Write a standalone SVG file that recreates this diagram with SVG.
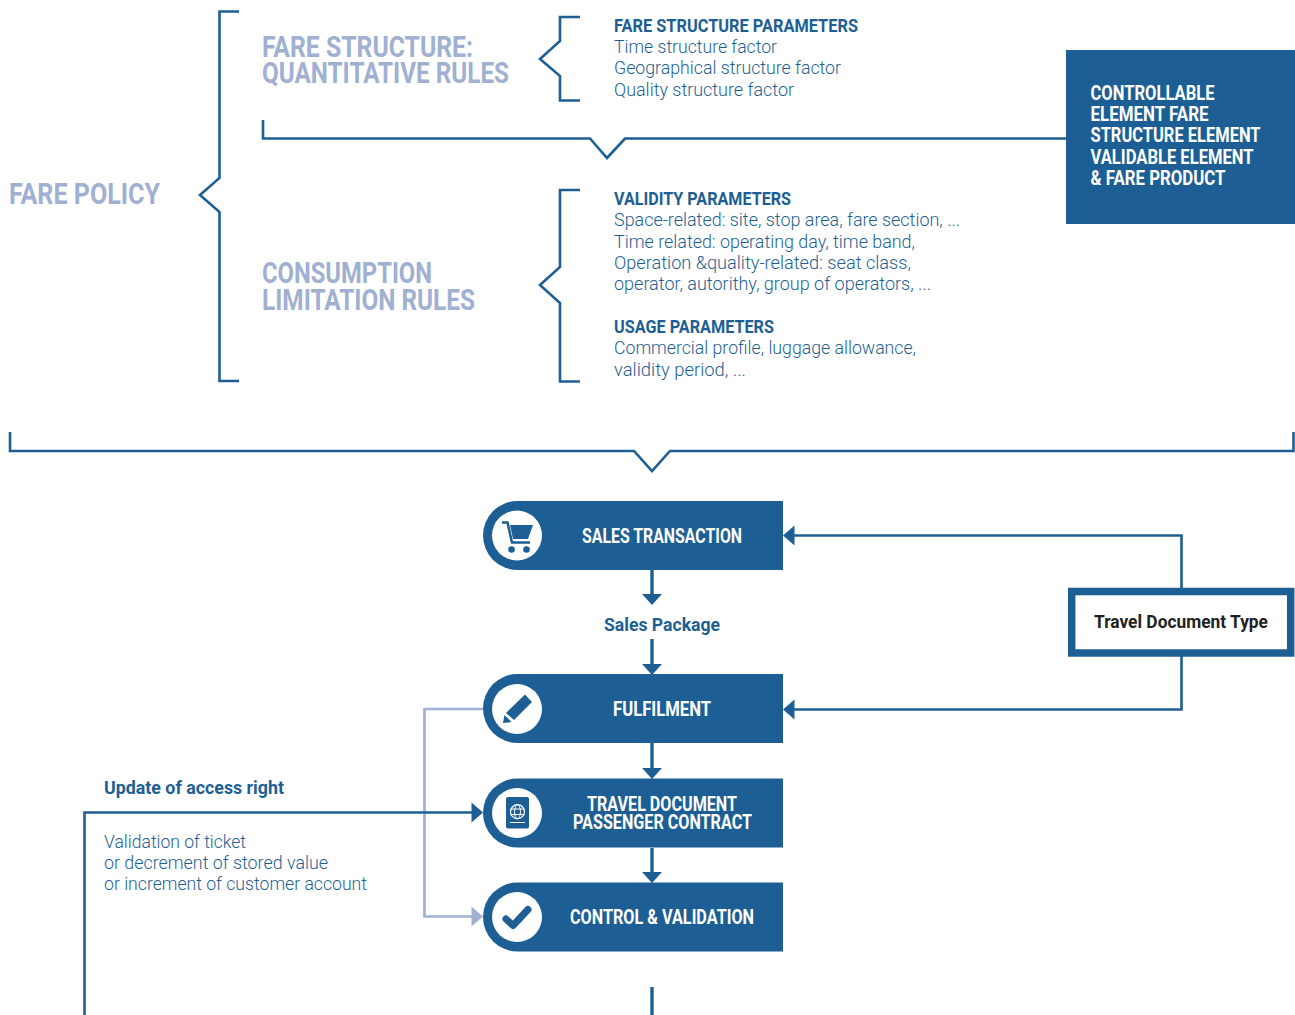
<svg xmlns="http://www.w3.org/2000/svg" width="1295" height="1015" viewBox="0 0 1295 1015">
<style>
text{font-family:"Roboto","Liberation Sans",sans-serif}
.ln{fill:none;stroke:#1d5f94;stroke-width:2.6}
.st{fill:none;stroke:#1d5f94;stroke-width:3.4}
.lt{fill:none;stroke:#9fb0d2;stroke-width:2.7}
.hd{fill:#9fb0d2;font-weight:700;font-size:29px}
.b{fill:#1d5f94;font-weight:700;font-size:18.500px}
.t{fill:#1d5f94;font-weight:300;font-size:18px}
.w{fill:#fff;font-weight:700;font-size:19.500px}
.box{fill:#1d5f94}
.c{fill:#fff}
.i{fill:#1d5f94}
</style>
<rect width="1295" height="1015" fill="#fff"/>
<g id="connectors">
<path class="ln" d="M239 11.500H219.500V178L200 195L219.500 212V381H239"/>
<path class="ln" d="M580 17H560V41L540 59L560 76V100.500H580"/>
<path class="ln" d="M580 190H560V267L540 285L560 303V381.500H580"/>
<path class="ln" d="M263 120V138.500H590L607 158L625 138.500H1066"/>
<path class="ln" d="M10 432V451H634L652 471L670 451H1293.500V432"/>
<path class="st" d="M652 570V595"/>
<polygon class="i" points="642,594 662,594 652,605"/>
<path class="st" d="M652 639V665"/>
<polygon class="i" points="642,664 662,664 652,675"/>
<path class="st" d="M652 743V769"/>
<polygon class="i" points="642,768 662,768 652,779"/>
<path class="st" d="M652 848V873"/>
<polygon class="i" points="642,872 662,872 652,883"/>
<path class="st" d="M652 987V1015"/>
<path class="ln" d="M1181.500 588V535.500H792"/>
<polygon class="i" points="794.500,525.500 794.500,545.500 783,535.500"/>
<path class="ln" d="M1181.500 656V709.500H792"/>
<polygon class="i" points="794.500,699.500 794.500,719.500 783,709.500"/>
<path class="lt" d="M484 709H424.500V916.500H474"/>
<polygon fill="#9fb0d2" points="471.500,906.500 471.500,926.500 483,916.500"/>
<path class="ln" d="M84.500 1015V812.500H474"/>
<polygon class="i" points="471.500,802.500 471.500,822.500 483,812.500"/>
</g>
<g id="fare-policy"><text class="hd" x="9" y="204" textLength="151" lengthAdjust="spacingAndGlyphs">FARE POLICY</text></g>
<g id="fare-structure">
<text class="hd" x="262" y="57" textLength="211" lengthAdjust="spacingAndGlyphs">FARE STRUCTURE:</text>
<text class="hd" x="262" y="83" textLength="247" lengthAdjust="spacingAndGlyphs">QUANTITATIVE RULES</text>
</g>
<g id="fare-structure-parameters">
<text class="b" x="614" y="32" textLength="244" lengthAdjust="spacingAndGlyphs">FARE STRUCTURE PARAMETERS</text>
<text class="t" x="614" y="53" textLength="163" lengthAdjust="spacingAndGlyphs">Time structure factor</text>
<text class="t" x="614" y="74" textLength="227" lengthAdjust="spacingAndGlyphs">Geographical structure factor</text>
<text class="t" x="614" y="96" textLength="180" lengthAdjust="spacingAndGlyphs">Quality structure factor</text>
</g>
<g id="consumption">
<text class="hd" x="262" y="283" textLength="170" lengthAdjust="spacingAndGlyphs">CONSUMPTION</text>
<text class="hd" x="262" y="310" textLength="213" lengthAdjust="spacingAndGlyphs">LIMITATION RULES</text>
</g>
<g id="validity-parameters">
<text class="b" x="614" y="205" textLength="177" lengthAdjust="spacingAndGlyphs">VALIDITY PARAMETERS</text>
<text class="t" x="614" y="226" textLength="346" lengthAdjust="spacingAndGlyphs">Space-related: site, stop area, fare section, ...</text>
<text class="t" x="614" y="248" textLength="301" lengthAdjust="spacingAndGlyphs">Time related: operating day, time band,</text>
<text class="t" x="614" y="269" textLength="297" lengthAdjust="spacingAndGlyphs">Operation &amp;quality-related: seat class,</text>
<text class="t" x="614" y="290" textLength="317" lengthAdjust="spacingAndGlyphs">operator, autorithy, group of operators, ...</text>
<text class="b" x="614" y="333" textLength="160" lengthAdjust="spacingAndGlyphs">USAGE PARAMETERS</text>
<text class="t" x="614" y="354" textLength="302" lengthAdjust="spacingAndGlyphs">Commercial profile, luggage allowance,</text>
<text class="t" x="614" y="376" textLength="132" lengthAdjust="spacingAndGlyphs">validity period, ...</text>
</g>
<g id="controllable">
<rect class="box" x="1066" y="50" width="229" height="174"/>
<text class="w" x="1090.500" y="99.500" textLength="124" lengthAdjust="spacingAndGlyphs">CONTROLLABLE</text>
<text class="w" x="1090.500" y="120.500" textLength="118" lengthAdjust="spacingAndGlyphs">ELEMENT FARE</text>
<text class="w" x="1090.500" y="141.500" textLength="170" lengthAdjust="spacingAndGlyphs">STRUCTURE ELEMENT</text>
<text class="w" x="1090.500" y="163.500" textLength="163" lengthAdjust="spacingAndGlyphs">VALIDABLE ELEMENT</text>
<text class="w" x="1090.500" y="184.500" textLength="135" lengthAdjust="spacingAndGlyphs">&amp; FARE PRODUCT</text>
</g>
<g id="sales-transaction">
<path class="box" d="M783 501V570H517.500A34.500 34.500 0 0 1 517.500 501Z"/>
<circle class="c" cx="517" cy="535.500" r="25"/>
<path fill="none" stroke="#1d5f94" stroke-width="2.500" d="M502 522.500H507.500L512 542.500H530"/>
<path class="i" d="M510 525H533L528 539H513Z"/>
<circle class="i" cx="511.500" cy="549.500" r="3.300"/><circle class="i" cx="526.500" cy="549.500" r="3.300"/>
<text class="w" x="582" y="543" textLength="160" lengthAdjust="spacingAndGlyphs">SALES TRANSACTION</text>
</g>
<g id="sales-package"><text class="b" x="604" y="631" textLength="116" lengthAdjust="spacingAndGlyphs">Sales Package</text></g>
<g id="fulfilment">
<path class="box" d="M783 674V743H517.500A34.500 34.500 0 0 1 517.500 674Z"/>
<circle class="c" cx="517" cy="709" r="25"/>
<path class="i" d="M525 694.500L532 702L514 720L506 713Z"/>
<path class="i" d="M504.500 715L511.500 722L503 723Z"/>
<text class="w" x="613" y="716" textLength="98" lengthAdjust="spacingAndGlyphs">FULFILMENT</text>
</g>
<g id="travel-document">
<path class="box" d="M783 778.500V847.500H517.500A34.500 34.500 0 0 1 517.500 778.500Z"/>
<circle class="c" cx="517" cy="813" r="25"/>
<rect class="i" x="506" y="797" width="23" height="31.500" rx="2"/>
<circle cx="517.500" cy="811.700" r="7" fill="none" stroke="#fff" stroke-width="1.200"/>
<ellipse cx="517.500" cy="811.700" rx="3" ry="7" fill="none" stroke="#fff" stroke-width="1"/>
<path d="M511 809H524M511 814.500H524M510 822.500H525" stroke="#fff" stroke-width="1.100" fill="none"/>
<text class="w" x="587" y="811" textLength="150" lengthAdjust="spacingAndGlyphs">TRAVEL DOCUMENT</text>
<text class="w" x="573" y="829" textLength="179" lengthAdjust="spacingAndGlyphs">PASSENGER CONTRACT</text>
</g>
<g id="control-validation">
<path class="box" d="M783 882.500V951.500H517.500A34.500 34.500 0 0 1 517.500 882.500Z"/>
<circle class="c" cx="517" cy="917" r="25"/>
<path fill="none" stroke="#1d5f94" stroke-width="7" stroke-linecap="round" stroke-linejoin="round" d="M506 919L513 925.500L528 909.500"/>
<text class="w" x="570" y="924" textLength="184" lengthAdjust="spacingAndGlyphs">CONTROL &amp; VALIDATION</text>
</g>
<g id="travel-document-type">
<rect x="1071.700" y="591.500" width="219" height="61.500" fill="#fff" stroke="#1d5f94" stroke-width="7.500"/>
<text x="1094" y="628" fill="#231f20" font-weight="700" font-size="18.500" textLength="174" lengthAdjust="spacingAndGlyphs">Travel Document Type</text>
</g>
<g id="update-label">
<text class="b" x="104" y="794" textLength="180" lengthAdjust="spacingAndGlyphs">Update of access right</text>
</g>
<g id="validation-label">
<text class="t" x="104" y="848" textLength="142" lengthAdjust="spacingAndGlyphs">Validation of ticket</text>
<text class="t" x="104" y="869" textLength="224" lengthAdjust="spacingAndGlyphs">or decrement of stored value</text>
<text class="t" x="104" y="890" textLength="263" lengthAdjust="spacingAndGlyphs">or increment of customer account</text>
</g>
</svg>
